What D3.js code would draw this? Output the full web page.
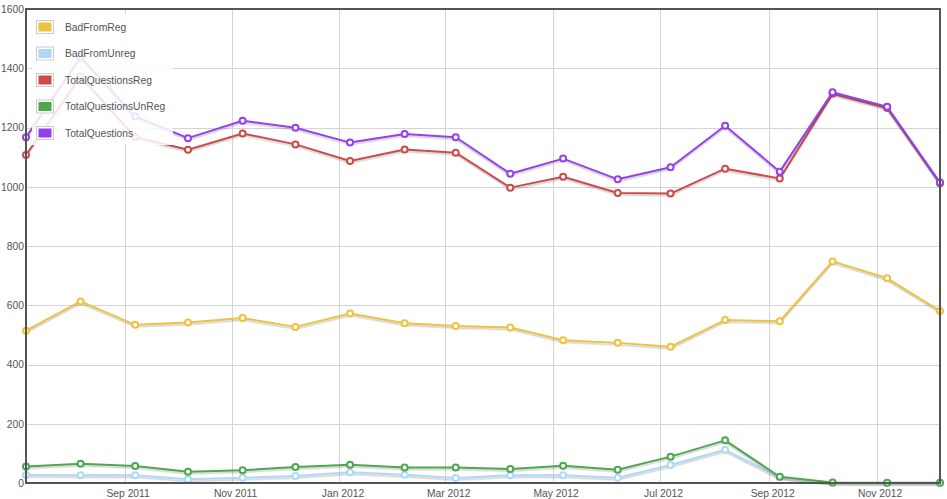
<!DOCTYPE html>
<html>
<head>
<meta charset="utf-8">
<script src="https://cdn.jsdelivr.net/npm/d3@7/dist/d3.min.js"></script>
<style>
  html, body { margin: 0; padding: 0; background: #fff; }
  svg { display: block; font-family: "Liberation Sans", Arial, sans-serif; }
</style>
</head>
<body>
<svg id="chart" width="947" height="499"></svg>
<script>
// ---- data ----
const dates = ["2011-07-07","2011-08-07","2011-09-07","2011-10-07","2011-11-07","2011-12-07",
               "2012-01-07","2012-02-07","2012-03-07","2012-04-07","2012-05-07","2012-06-07",
               "2012-07-07","2012-08-07","2012-09-07","2012-10-07","2012-11-07","2012-12-07"];
const seriesNames = ["BadFromReg","BadFromUnreg","TotalQuestionsReg","TotalQuestionsUnReg","TotalQuestions"];
const seriesColors = ["#edc240","#afd8f8","#cb4b4b","#4da74d","#9440ed"];
const badFromReg        = [514,613,534,542,557,527,572,539,530,525,482,473,460,550,546,748,691,581];
const badFromUnreg      = [27,26,26,13,18,24,36,28,17,26,26,18,61,112,19,1,0,0];
const totalQuestionsReg = [1107,1372,1168,1125,1180,1143,1087,1126,1115,997,1034,979,977,1061,1028,1314,1266,1012];
const totalQuestionsUnReg = [56,65,57,38,43,54,62,52,52,47,58,45,89,144,21,2,1,1];
const totalQuestions    = [1167,1438,1237,1164,1223,1199,1149,1178,1167,1044,1095,1025,1066,1206,1051,1319,1270,1014];
const xTickLabels = ["Sep 2011","Nov 2011","Jan 2012","Mar 2012","May 2012","Jul 2012","Sep 2012","Nov 2012"];
const yTicks = [0,200,400,600,800,1000,1200,1400,1600];

const allValues = [badFromReg, badFromUnreg, totalQuestionsReg, totalQuestionsUnReg, totalQuestions];

// ---- layout ----
const L = 26, R = 940, T = 9, B = 483;
const parse = d3.timeParse("%Y-%m-%d");
const parseTick = d3.timeParse("%b %Y");
const fmtTick = d3.timeFormat("%b %Y");
const xDates = dates.map(parse);

const x = d3.scaleTime().domain([xDates[0], xDates[xDates.length-1]]).range([L, R]);
const y = d3.scaleLinear().domain([0, 1600]).range([B, T]);

const svg = d3.select("#chart");
const textColor = "#545454";

// grid
const gx = svg.append("g").attr("transform", `translate(0,${B})`)
  .call(d3.axisBottom(x).tickValues(xTickLabels.map(parseTick)).tickSize(-(B - T)).tickFormat(""));
gx.select(".domain").remove();
gx.selectAll("line").attr("stroke", "#d4d4d4").attr("stroke-width", 1).attr("shape-rendering", "crispEdges");

const gy = svg.append("g").attr("transform", `translate(${L},0)`)
  .call(d3.axisLeft(y).tickValues(yTicks).tickSize(-(R - L)).tickFormat(""));
gy.select(".domain").remove();
gy.selectAll("line").attr("stroke", "#d4d4d4").attr("stroke-width", 1).attr("shape-rendering", "crispEdges");

// tick labels
const xl = svg.append("g").attr("transform", `translate(3,${B + 10})`)
  .call(d3.axisBottom(x).tickValues(xTickLabels.map(parseTick)).tickSize(0).tickPadding(0).tickFormat(fmtTick));
xl.select(".domain").remove();
xl.selectAll("text").attr("fill", textColor).style("font-size", "10.3px")
  .style("font-family", '"Liberation Sans", Arial, sans-serif').attr("dy", "0.35em").attr("y", 0);

const yl = svg.append("g").attr("transform", `translate(${L - 2},0)`)
  .call(d3.axisLeft(y).tickValues(yTicks).tickSize(0).tickPadding(0).tickFormat(d3.format("d")));
yl.select(".domain").remove();
yl.selectAll("text").attr("fill", textColor).style("font-size", "10.3px")
  .style("font-family", '"Liberation Sans", Arial, sans-serif');

// lines
const line = d3.line().x((d, i) => x(xDates[i])).y(d => y(d));
const plot = svg.append("g");
allValues.forEach((vals, si) => {
  const g = plot.append("g");
  g.append("path").attr("d", line(vals)).attr("fill", "none")
    .attr("stroke", "rgba(0,0,0,0.1)").attr("stroke-width", 1.5).attr("transform", "translate(0,2.5)");
  g.append("path").attr("d", line(vals)).attr("fill", "none")
    .attr("stroke", "rgba(0,0,0,0.1)").attr("stroke-width", 1.5).attr("transform", "translate(0,1.5)");
  g.append("path").attr("d", line(vals)).attr("fill", "none")
    .attr("stroke", seriesColors[si]).attr("stroke-width", 2).attr("stroke-linejoin", "round");
  g.selectAll("circle").data(vals).join("circle")
    .attr("cx", (d, i) => x(xDates[i])).attr("cy", d => y(d)).attr("r", 3)
    .attr("fill", "#fff").attr("stroke", seriesColors[si]).attr("stroke-width", 2);
});

// border
svg.append("rect").attr("x", L).attr("y", T).attr("width", R - L).attr("height", B - T)
  .attr("fill", "none").attr("stroke", "#545454").attr("stroke-width", 2);

// legend
const leg = svg.append("g");
leg.append("rect").attr("x", 32).attr("y", 14).attr("width", 141).attr("height", 131)
  .attr("fill", "#fff").attr("opacity", 0.85);
seriesNames.forEach((name, i) => {
  const cy = 27 + i * 26.5;
  leg.append("rect").attr("x", 36.5).attr("y", cy - 6.5).attr("width", 17).attr("height", 13)
    .attr("fill", "#fff").attr("stroke", "#ccc").attr("stroke-width", 1);
  leg.append("rect").attr("x", 38.5).attr("y", cy - 4.5).attr("width", 13).attr("height", 9)
    .attr("fill", seriesColors[i]);
  leg.append("text").attr("x", 65).attr("y", cy).attr("dy", "0.35em")
    .attr("fill", textColor).style("font-size", "10.3px").text(name);
});
</script>
</body>
</html>
